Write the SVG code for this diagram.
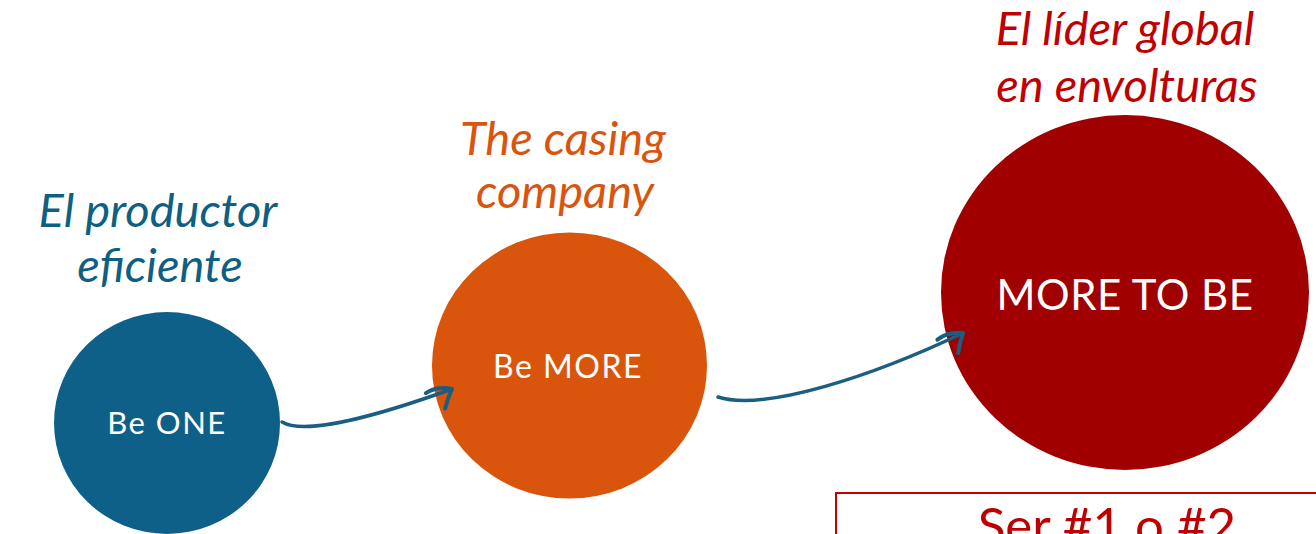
<svg xmlns="http://www.w3.org/2000/svg" width="1316" height="534" viewBox="0 0 1316 534">
  <style>
    .title { font-family: Lato, "Liberation Sans", sans-serif; font-style: italic; font-size: 47px; text-anchor: middle; }
    .label { font-family: Lato, "Open Sans", sans-serif; fill: #ffffff; text-anchor: middle; }
    .conn { fill: none; stroke: #1a5f82; stroke-width: 3.5; stroke-linecap: round; stroke-linejoin: round; }
  </style>
  <defs>
    <marker id="hook" markerUnits="userSpaceOnUse" orient="auto" refX="0" refY="0" markerWidth="40" markerHeight="40" overflow="visible">
      <path d="M-26,-5 Q-13,-8 0,0 M0,0 Q-7,7 -13,16" fill="none" stroke="#1a5f82" stroke-width="4" stroke-linecap="round"/>
    </marker>
  </defs>
  <rect width="1316" height="534" fill="#ffffff"/>

  <!-- stage 1 -->
  <g id="be-one">
    <ellipse cx="167" cy="423" rx="113" ry="111" fill="#0e6089"/>
    <text class="label" x="167" y="434" font-size="31" letter-spacing="1.5">Be ONE</text>
    <text class="title" x="158" y="227" fill="#0e5f82">El productor</text>
    <text class="title" x="160" y="282" fill="#0e5f82">eficiente</text>
  </g>

  <!-- stage 2 -->
  <g id="be-more">
    <ellipse cx="569.5" cy="365.5" rx="137.5" ry="133" fill="#d9550b"/>
    <text class="label" x="568" y="378" font-size="32" letter-spacing="1.5">Be MORE</text>
    <text class="title" x="563" y="155" fill="#d9550e">The casing</text>
    <text class="title" x="565" y="208" fill="#d9550e">company</text>
  </g>

  <!-- stage 3 -->
  <g id="more-to-be">
    <ellipse cx="1125" cy="292.5" rx="184" ry="177.5" fill="#a00000"/>
    <text class="label" x="1125" y="310" font-size="42" letter-spacing="0.5">MORE TO BE</text>
    <text class="title" x="1125" y="45" fill="#c00000">El líder global</text>
    <text class="title" x="1127" y="102" fill="#c00000">en envolturas</text>
  </g>

  <!-- goal box -->
  <g id="goal">
    <rect x="836" y="493" width="490" height="80" fill="none" stroke="#c00000" stroke-width="2"/>
    <text x="1107" y="544" font-family="Lato, 'Liberation Sans', sans-serif" font-size="51" fill="#c00000" text-anchor="middle">Ser #1 o #2</text>
  </g>

  <!-- connectors -->
  <g id="connectors">
    <path class="conn" d="M282,422 C305,436 380,415 452,389" marker-end="url(#hook)"/>
    <path class="conn" d="M718,397 C765,412 875,375 963,333" marker-end="url(#hook)"/>
  </g>
</svg>
